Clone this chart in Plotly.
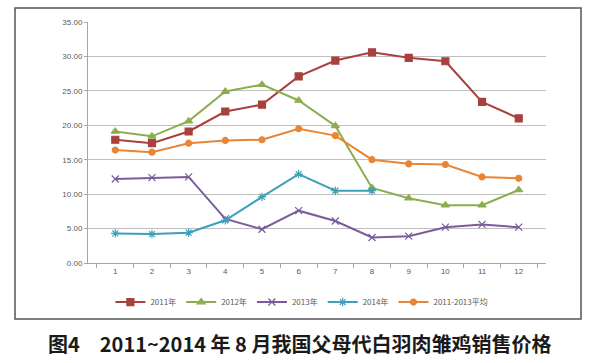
import plotly.graph_objects as go

months = [str(i) for i in range(1, 13)]
y2011 = [17.9, 17.4, 19.1, 22.0, 23.0, 27.1, 29.4, 30.6, 29.8, 29.3, 23.4, 21.0]
y2012 = [19.1, 18.4, 20.6, 24.9, 25.9, 23.6, 19.9, 10.9, 9.4, 8.4, 8.4, 10.6]
y2013 = [12.2, 12.4, 12.5, 6.4, 4.9, 7.6, 6.1, 3.7, 3.9, 5.2, 5.6, 5.2]
y2014 = [4.3, 4.2, 4.4, 6.2, 9.6, 12.9, 10.5, 10.5]
yavg = [16.4, 16.1, 17.4, 17.8, 17.9, 19.5, 18.5, 15.0, 14.4, 14.3, 12.5, 12.3]

names = ["2011年", "2012年", "2013年", "2014年", "2011-2013平均"]
colors = ["#A8403D", "#8BAE4D", "#7A5B9C", "#3EA1BA", "#E98535"]
symbols = ["square", "triangle-up", "x-thin-open", "asterisk-open", "circle"]
sizes = [7, 7, 7, 7, 6]
series = [y2011, y2012, y2013, y2014, yavg]

fig = go.Figure()
for n, c, s, sz, ys in zip(names, colors, symbols, sizes, series):
    fig.add_trace(go.Scatter(
        x=months[:len(ys)], y=ys, name=n, mode="lines+markers",
        line=dict(color=c, width=2),
        marker=dict(symbol=s, size=sz, color=c, line=dict(color=c, width=1.2)),
    ))

fig.update_layout(
    width=594, height=363,
    margin=dict(l=88, r=48, t=22, b=100, autoexpand=False),
    paper_bgcolor="white", plot_bgcolor="white",
    font=dict(family="Liberation Sans, DejaVu Sans, sans-serif", size=8, color="#595959"),
    showlegend=True,
    legend=dict(orientation="h", x=0.467, xanchor="center", y=-0.162, yanchor="middle",
                font=dict(size=8, color="#595959", family="Noto Sans CJK SC"),
                itemwidth=30, tracegroupgap=0, bgcolor="rgba(0,0,0,0)"),
    xaxis=dict(type="category", tickson="boundaries", ticks="outside", ticklen=4,
               tickcolor="#A6A6A6", showline=True, linecolor="#A6A6A6", linewidth=1,
               showgrid=False, tickfont=dict(size=8, color="#595959")),
    yaxis=dict(range=[0, 35], dtick=5, tickformat=".2f", ticks="outside", ticklen=3,
               tickcolor="#A6A6A6", showline=True, linecolor="#A6A6A6", linewidth=1,
               showgrid=True, gridcolor="#BFBFBF", gridwidth=1, zeroline=False,
               tickfont=dict(size=8, color="#595959")),
)

fig.add_shape(type="rect", xref="paper", yref="paper",
              x0=(15 - 88) / 458, x1=(581 - 88) / 458,
              y0=-(319 - 263) / 241, y1=(263 - 8) / 241,
              line=dict(color="#555555", width=1.5), layer="below")

fig.add_annotation(text="图4　2011~2014 年 8 月我国父母代白羽肉雏鸡销售价格",
                   xref="paper", yref="paper", x=(299 - 88) / 458, y=-(343 - 263) / 241,
                   xanchor="center", yanchor="middle", showarrow=False,
                   font=dict(family="Noto Sans CJK SC", size=20, color="#1a1a1a", weight="bold"))

fig.write_html("out.html", config={"displayModeBar": False},
               post_script="document.body.style.margin='0';document.body.style.padding='0';")
